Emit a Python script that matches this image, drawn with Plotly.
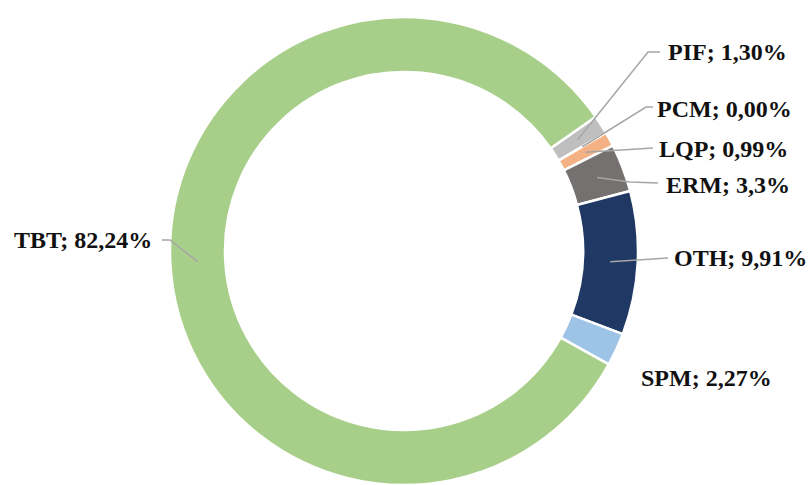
import math
import plotly.graph_objects as go

# ---- data ----
categories = ["PIF", "PCM", "LQP", "ERM", "OTH", "SPM", "TBT"]
values = [1.30, 0.00, 0.99, 3.3, 9.91, 2.27, 82.24]
value_labels = ["1,30%", "0,00%", "0,99%", "3,3%", "9,91%", "2,27%", "82,24%"]
colors = ["#BFBFBF", "#F8CBAD", "#F4B183", "#767171", "#1F3864", "#9DC3E6", "#A7CF8A"]

# ---- layout constants (pixels) ----
W, H = 811, 485
CX, CY, R = 404, 251, 234
HOLE = 0.765
ROTATION = 55
TIP_R = R * (1 + HOLE) / 2

# label placement: text x, text y, anchor, leader path points (excluding tip)
label_layout = {
    "PIF": (667, 52, "left", [(648, 52), (660, 52)]),
    "PCM": (656, 109, "left", [(646, 107), (653, 107)]),
    "LQP": (658, 149, "left", [(653, 148)]),
    "ERM": (665, 185, "left", [(630, 182), (658, 183)]),
    "OTH": (673, 258, "left", [(668, 258)]),
    "SPM": (640, 378, "left", None),
    "TBT": (153, 240, "right", [(170, 240), (162, 240)]),
}


def px2paper(x, y):
    return x / W, 1 - y / H


fig = go.Figure(
    go.Pie(
        labels=categories,
        values=values,
        hole=HOLE,
        sort=False,
        direction="clockwise",
        rotation=ROTATION,
        marker=dict(colors=colors, line=dict(color="white", width=2.5)),
        textinfo="none",
        hoverinfo="label+percent",
        showlegend=False,
        domain=dict(x=[(CX - R) / W, (CX + R) / W],
                    y=[max(0, 1 - (CY + R) / H), 1 - (CY - R) / H]),
    )
)

total = sum(values)
angle = ROTATION
shapes = []
annotations = []
for name, v, lab in zip(categories, values, value_labels):
    a0 = angle
    a1 = angle + v / total * 360
    angle = a1
    mid = math.radians((a0 + a1) / 2)
    tx = CX + TIP_R * math.sin(mid)
    ty = CY - TIP_R * math.cos(mid)
    lx, ly, anchor, pts = label_layout[name]
    if pts:
        path_pts = [(tx, ty)] + pts
        p = []
        for i, (x, y) in enumerate(path_pts):
            X, Y = px2paper(x, y)
            p.append(("M" if i == 0 else "L") + f"{X:.5f},{Y:.5f}")
        shapes.append(dict(type="path", path=" ".join(p), xref="paper", yref="paper",
                           line=dict(color="#A6A6A6", width=1.5)))
    X, Y = px2paper(lx, ly)
    annotations.append(dict(
        text=f"{name}; {lab}", x=X, y=Y, xref="paper", yref="paper",
        xanchor=anchor, yanchor="middle", showarrow=False, borderpad=0,
        font=dict(family="Liberation Serif, Times New Roman, serif", size=24,
                  color="#111111", weight="bold"),
    ))

fig.update_layout(
    width=W, height=H,
    margin=dict(l=0, r=0, t=0, b=0),
    paper_bgcolor="white", plot_bgcolor="white",
    shapes=shapes, annotations=annotations,
)

fig.write_html(
    "out.html",
    config={"displayModeBar": False},
    post_script="document.body.style.margin='0';document.body.style.overflow='hidden';",
)
